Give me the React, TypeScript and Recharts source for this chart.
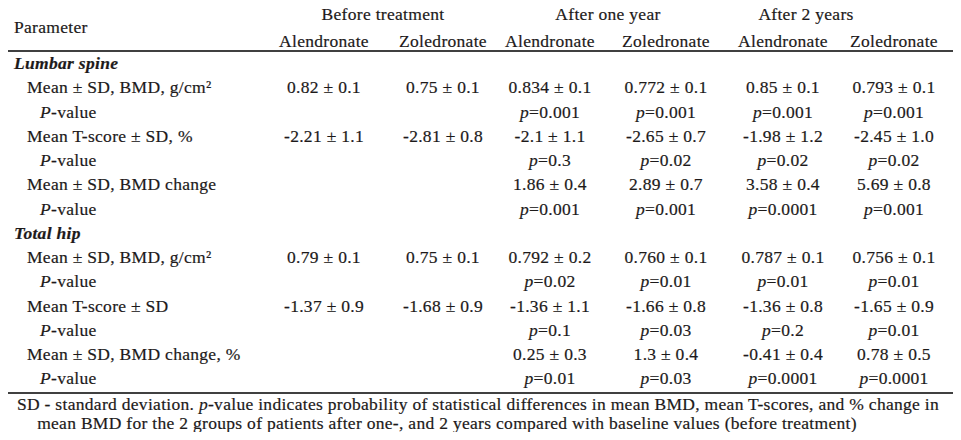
import { ScatterChart, Scatter, XAxis, YAxis, ReferenceLine, Customized } from 'recharts';

// ---- table content ----
const GROUPS = ['Before treatment', 'After one year', 'After 2 years'];
const DRUGS = ['Alendronate', 'Zoledronate', 'Alendronate', 'Zoledronate', 'Alendronate', 'Zoledronate'];

const ROW_LABELS = [
  'Lumbar spine',
  'Mean ± SD, BMD, g/cm²',
  'P-value',
  'Mean T-score ± SD, %',
  'P-value',
  'Mean ± SD, BMD change',
  'P-value',
  'Total hip',
  'Mean ± SD, BMD, g/cm²',
  'P-value',
  'Mean T-score ± SD',
  'P-value',
  'Mean ± SD, BMD change, %',
  'P-value',
];
// 0 = section, 1 = measure, 2 = p-value line
const ROW_LEVEL = [0, 1, 2, 1, 2, 1, 2, 0, 1, 2, 1, 2, 1, 2];

const BEFORE_ALN = ['', '0.82 ± 0.1', '', '-2.21 ± 1.1', '', '', '', '', '0.79 ± 0.1', '', '-1.37 ± 0.9', '', '', ''];
const BEFORE_ZOL = ['', '0.75 ± 0.1', '', '-2.81 ± 0.8', '', '', '', '', '0.75 ± 0.1', '', '-1.68 ± 0.9', '', '', ''];
const YEAR1_ALN = ['', '0.834 ± 0.1', 'p=0.001', '-2.1 ± 1.1', 'p=0.3', '1.86 ± 0.4', 'p=0.001', '', '0.792 ± 0.2', 'p=0.02', '-1.36 ± 1.1', 'p=0.1', '0.25 ± 0.3', 'p=0.01'];
const YEAR1_ZOL = ['', '0.772 ± 0.1', 'p=0.001', '-2.65 ± 0.7', 'p=0.02', '2.89 ± 0.7', 'p=0.001', '', '0.760 ± 0.1', 'p=0.01', '-1.66 ± 0.8', 'p=0.03', '1.3 ± 0.4', 'p=0.03'];
const YEAR2_ALN = ['', '0.85 ± 0.1', 'p=0.001', '-1.98 ± 1.2', 'p=0.02', '3.58 ± 0.4', 'p=0.0001', '', '0.787 ± 0.1', 'p=0.01', '-1.36 ± 0.8', 'p=0.2', '-0.41 ± 0.4', 'p=0.0001'];
const YEAR2_ZOL = ['', '0.793 ± 0.1', 'p=0.001', '-2.45 ± 1.0', 'p=0.02', '5.69 ± 0.8', 'p=0.001', '', '0.756 ± 0.1', 'p=0.01', '-1.65 ± 0.9', 'p=0.01', '0.78 ± 0.5', 'p=0.0001'];
const COLUMNS = [BEFORE_ALN, BEFORE_ZOL, YEAR1_ALN, YEAR1_ZOL, YEAR2_ALN, YEAR2_ZOL];

const FOOTNOTE = [
  'SD - standard deviation. p-value indicates probability of statistical differences in mean BMD, mean T-scores, and % change in',
  'mean BMD for the 2 groups of patients after one-, and 2 years compared with baseline values (before treatment)',
];

// ---- layout ----
const W = 961;
const H = 440;
const COL_X = [324, 443, 550, 666, 783, 894];
const GROUP_X = [383, 608, 806];
const INDENT = [14, 27, 40];
const Y_DOMAIN = [-0.5, 13.6];
// horizontal rules in row units: top rule, closing rule under the footnote
const RULES = [-2.52, 15.43];
const RULE_W = [1.8, 1.5];
const FONT = '"Liberation Serif", "Times New Roman", serif';
const FS = 17.5;
const LS = 0.3;
const INK = '#1d1a1a';

const rowTicks = ROW_LABELS.map((_, i) => i);
const groupData = GROUPS.map((g, i) => ({ x: GROUP_X[i], y: 0, t: '' }));

const txt = {
  fontFamily: FONT,
  fontSize: FS,
  letterSpacing: LS,
  fill: INK,
  stroke: INK,
  strokeWidth: 0.2,
} as const;

// italic leading "p" / "P"
function rich(s: string) {
  if (/^[pP][=-]/.test(s)) {
    return (
      <>
        <tspan fontStyle="italic">{s[0]}</tspan>
        {s.slice(1)}
      </>
    );
  }
  return s;
}

function CellText(props: any) {
  const { cx, cy, payload } = props;
  if (cx == null || !payload?.t) return null;
  return (
    <text x={cx} y={cy} textAnchor="middle" dominantBaseline="central" {...txt}>
      {rich(payload.t)}
    </text>
  );
}

function RowTick(props: any) {
  const { y, payload } = props;
  const i = payload.value as number;
  const level = ROW_LEVEL[i];
  return (
    <text
      x={INDENT[level]}
      y={y}
      dominantBaseline="central"
      {...txt}
      fontStyle={level === 0 ? 'italic' : 'normal'}
      fontWeight={level === 0 ? 'bold' : 'normal'}
    >
      {rich(ROW_LABELS[i])}
    </text>
  );
}

function DrugTick(props: any) {
  const { x, y, payload } = props;
  const i = COL_X.indexOf(payload.value);
  return (
    <text x={x} y={y - 10} textAnchor="middle" dominantBaseline="central" {...txt}>
      {DRUGS[i]}
    </text>
  );
}

function GroupTick(props: any) {
  const { x, y, payload } = props;
  const i = GROUP_X.indexOf(payload.value);
  return (
    <text x={x} y={y - 12} textAnchor="middle" dominantBaseline="central" {...txt}>
      {GROUPS[i]}
    </text>
  );
}

function FootNote(props: any) {
  const vb = props.viewBox || { x: 0, y: H - 47, width: W, height: 47 };
  return (
    <g>
      <text x={478} y={vb.y + 10.5} textAnchor="middle" dominantBaseline="central" {...txt}>
        SD - standard deviation. <tspan fontStyle="italic">p</tspan>
        {FOOTNOTE[0].slice(26)}
      </text>
      <text x={447} y={vb.y + 30} textAnchor="middle" dominantBaseline="central" {...txt}>
        {FOOTNOTE[1]}
      </text>
    </g>
  );
}

function TopDecor() {
  return (
    <text x={INDENT[0]} y={27} dominantBaseline="central" {...txt}>
      Parameter
    </text>
  );
}

export default function App() {
  return (
    <div style={{ width: W, height: H, margin: -8, background: '#fff' }}>
      <ScatterChart width={W} height={H} margin={{ top: 0, right: 0, bottom: 0, left: -1 }}>
        <XAxis
          xAxisId="grp"
          orientation="top"
          type="number"
          dataKey="x"
          domain={[0, W]}
          ticks={GROUP_X}
          interval={0}
          height={26}
          axisLine={false}
          tickLine={false}
          tickSize={0}
          tickMargin={0}
          tick={<GroupTick />}
        />
        <XAxis
          xAxisId="drug"
          orientation="top"
          type="number"
          dataKey="x"
          domain={[0, W]}
          ticks={COL_X}
          interval={0}
          height={25}
          axisLine={{ stroke: '#000', strokeWidth: 1.5 }}
          tickLine={false}
          tickSize={0}
          tickMargin={0}
          tick={<DrugTick />}
        />
        <XAxis
          xAxisId="foot"
          orientation="bottom"
          type="number"
          domain={[0, W]}
          height={47}
          axisLine={{ stroke: '#000', strokeWidth: 1.4 }}
          tick={false}
          tickLine={false}
          label={<FootNote />}
        />
        <YAxis
          type="number"
          dataKey="y"
          domain={Y_DOMAIN}
          reversed
          allowDataOverflow
          ticks={rowTicks}
          interval={0}
          width={1}
          axisLine={false}
          tickLine={false}
          tick={<RowTick />}
        />
        {RULES.map((r, i) => (
          <ReferenceLine
            key={i}
            xAxisId="drug"
            y={r}
            stroke="#000"
            strokeWidth={RULE_W[i]}
            ifOverflow="visible"
          />
        ))}
        <Scatter xAxisId="grp" data={groupData} shape={<CellText />} isAnimationActive={false} />
        {COLUMNS.map((col, c) => (
          <Scatter
            key={c}
            xAxisId="drug"
            data={col.map((t, i) => ({ x: COL_X[c], y: i, t })).filter((d) => d.t)}
            shape={<CellText />}
            isAnimationActive={false}
          />
        ))}
        <Customized component={TopDecor} />
      </ScatterChart>
    </div>
  );
}
